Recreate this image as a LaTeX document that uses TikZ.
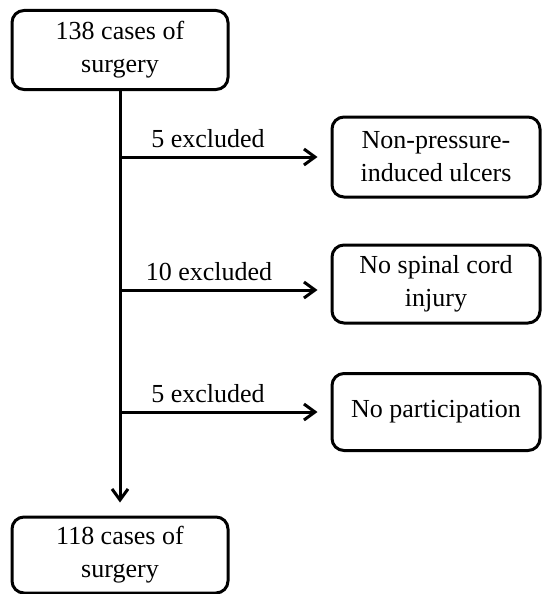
\documentclass[tikz,border=0pt]{standalone}
\usepackage{fontspec}
\setmainfont{Liberation Serif}
\usetikzlibrary{positioning,arrows.meta,calc}

\begin{document}
\begin{tikzpicture}[x=1pt,y=-1pt,
    box/.style={draw, rectangle, rounded corners=12pt, line width=3pt, align=center,
      font=\fontsize{26}{33}\selectfont, inner sep=0pt},
    lbl/.style={font=\fontsize{26}{33}\selectfont},
    arr/.style={-{Straight Barb[length=11pt,width=16pt,line width=3pt]}, line width=3pt}]
    \useasboundingbox (0,0) rectangle (542,594);
    \node[box, minimum width=216pt, minimum height=79pt] (start) at (120,50) {138 cases of\\surgery};
    \node[box, minimum width=216pt, minimum height=76pt] (final) at (120,555) {118 cases of\\surgery};
    \node[box, minimum width=208pt, minimum height=80pt] (ex1) at (436,157) {Non-pressure-\\induced ulcers};
    \node[box, minimum width=208pt, minimum height=78pt] (ex2) at (436,284) {No spinal cord\\injury};
    \node[box, minimum width=208pt, minimum height=77pt] (ex3) at (436,412) {No participation};

    \coordinate (b1) at (120,157);
    \coordinate (b2) at (120,290);
    \coordinate (b3) at (120,412);

    \draw[arr, shorten >=13pt] (start) -- (final);
    \draw[arr, shorten >=13pt] (b1) -- (ex1.west |- b1);
    \draw[arr, shorten >=13pt] (b2) -- (ex2.west |- b2);
    \draw[arr, shorten >=13pt] (b3) -- (ex3.west |- b3);

    \node[lbl] (l1) at (208,139) {5 excluded};
    \node[lbl] (l2) at (209,272) {10 excluded};
    \node[lbl] (l3) at (208,394) {5 excluded};
  \end{tikzpicture}
\end{document}
